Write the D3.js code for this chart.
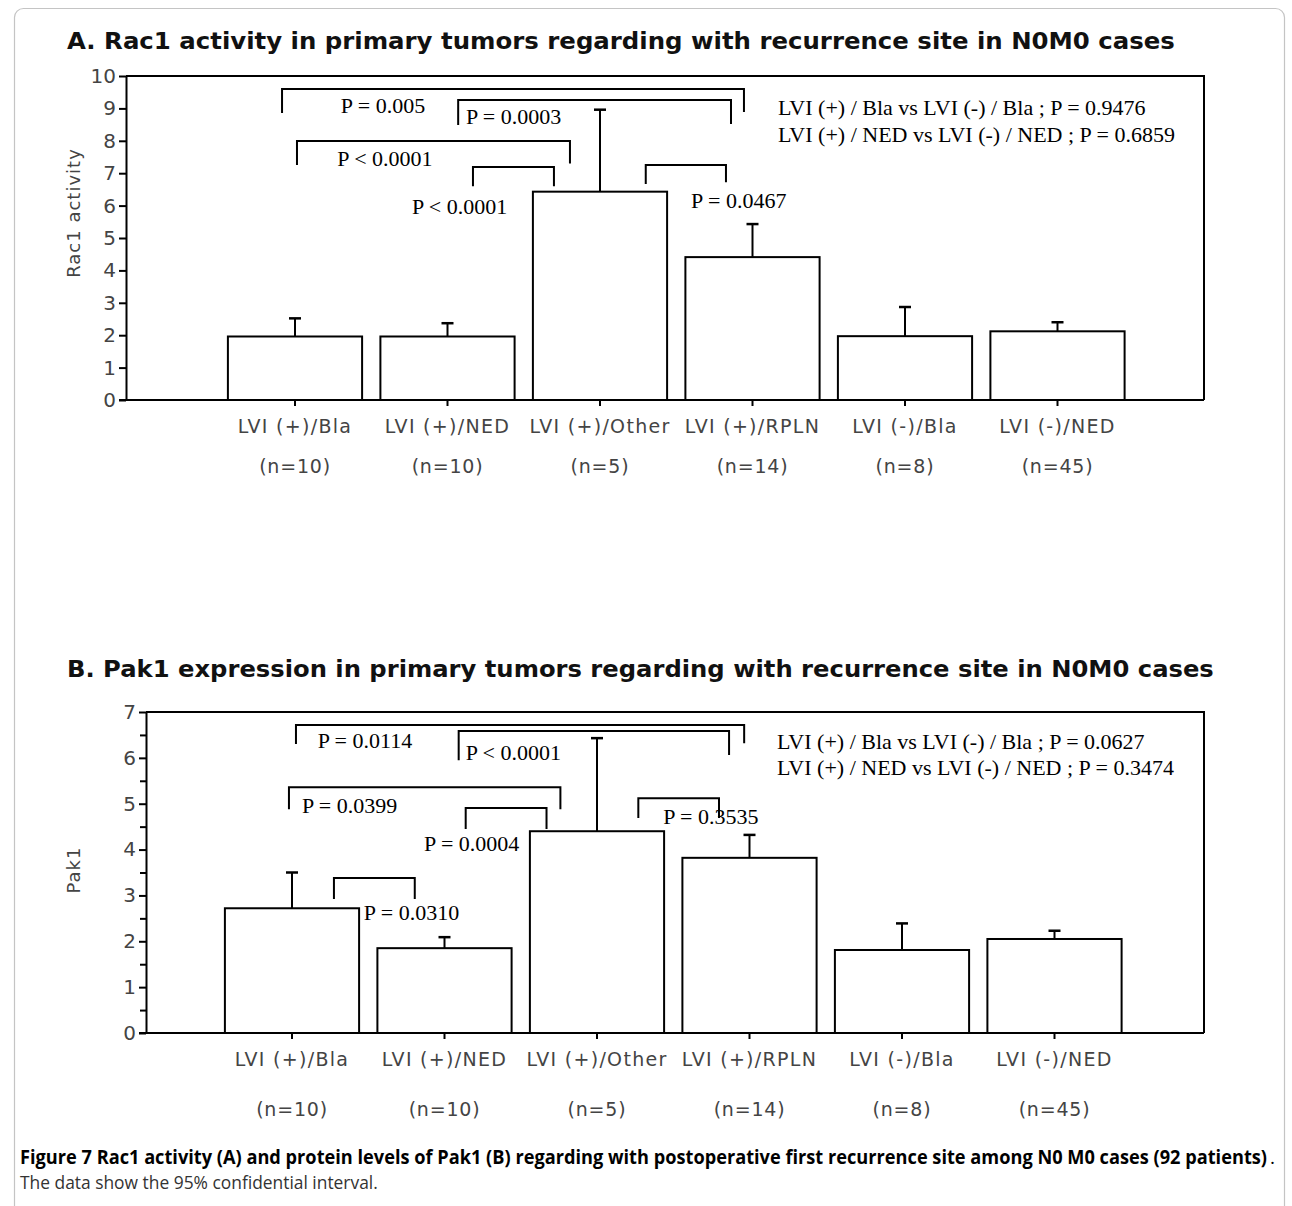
<!DOCTYPE html>
<html>
<head>
<meta charset="utf-8">
<script src="https://cdn.jsdelivr.net/npm/d3@7"></script>
<style>
  body { margin: 0; background: #fff; }
  .tick text { font-family: "DejaVu Sans", sans-serif; fill: #444; }
</style>
</head>
<body>
<div id="chart"></div>
<script>
var svgWidth = 1292;
var svgHeight = 1206;

// categories and group sizes (shared by both panels)
var categories = ["LVI (+)/Bla", "LVI (+)/NED", "LVI (+)/Other", "LVI (+)/RPLN", "LVI (-)/Bla", "LVI (-)/NED"];
var groupSizes = ["(n=10)", "(n=10)", "(n=5)", "(n=14)", "(n=8)", "(n=45)"];

// panel A: Rac1 activity, bar = mean, whisker = upper 95% CI
var rac1Mean = [1.96, 1.96, 6.43, 4.41, 1.97, 2.12];
var rac1Upper = [2.52, 2.37, 8.96, 5.43, 2.87, 2.40];
var rac1Ticks = [0, 1, 2, 3, 4, 5, 6, 7, 8, 9, 10];

// panel B: Pak1 expression
var pak1Mean = [2.72, 1.85, 4.40, 3.82, 1.81, 2.05];
var pak1Upper = [3.50, 2.09, 6.43, 4.32, 2.39, 2.23];
var pak1Ticks = [0, 1, 2, 3, 4, 5, 6, 7];
var pak1MinorTicks = [0.5, 1.5, 2.5, 3.5, 4.5, 5.5, 6.5];

// significance brackets: legs at category-index positions, heights in data units
var rac1Brackets = [
  {x1: -0.085, x2: 2.944, top: 9.60, b1: 8.86, b2: 8.89},
  {x1: 1.07, x2: 2.859, top: 9.26, b1: 8.49, b2: 8.52},
  {x1: 0.013, x2: 1.803, top: 7.99, b1: 7.25, b2: 7.30},
  {x1: 1.167, x2: 1.698, top: 7.19, b1: 6.60, b2: 6.60},
  {x1: 2.30, x2: 2.826, top: 7.25, b1: 6.67, b2: 6.72}
];
var rac1PLabels = [
  {text: "P = 0.005", x: 0.577, y: 9.10, anchor: "middle"},
  {text: "P = 0.0003", x: 1.121, y: 8.77, anchor: "start"},
  {text: "P < 0.0001", x: 0.59, y: 7.47, anchor: "middle"},
  {text: "P < 0.0001", x: 1.079, y: 5.99, anchor: "middle"},
  {text: "P = 0.0467", x: 2.91, y: 6.17, anchor: "middle"},
  {text: "LVI (+) / Bla vs LVI (-) / Bla ; P = 0.9476", x: 3.167, y: 9.04, anchor: "start"},
  {text: "LVI (+) / NED vs LVI (-) / NED ; P = 0.6859", x: 3.167, y: 8.21, anchor: "start"}
];

var pak1Brackets = [
  {x1: 0.026, x2: 2.965, top: 6.716, b1: 6.30, b2: 6.32},
  {x1: 1.093, x2: 2.866, top: 6.585, b1: 5.95, b2: 6.06},
  {x1: -0.02, x2: 1.76, top: 5.36, b1: 4.88, b2: 4.88},
  {x1: 1.139, x2: 1.669, top: 4.906, b1: 4.45, b2: 4.45},
  {x1: 0.275, x2: 0.805, top: 3.38, b1: 2.92, b2: 2.92},
  {x1: 2.271, x2: 2.80, top: 5.12, b1: 4.69, b2: 4.69}
];
var pak1PLabels = [
  {text: "P = 0.0114", x: 0.478, y: 6.39, anchor: "middle"},
  {text: "P < 0.0001", x: 1.139, y: 6.13, anchor: "start"},
  {text: "P = 0.0399", x: 0.065, y: 4.97, anchor: "start"},
  {text: "P = 0.0004", x: 1.178, y: 4.14, anchor: "middle"},
  {text: "P = 0.0310", x: 0.471, y: 2.64, anchor: "start"},
  {text: "P = 0.3535", x: 2.434, y: 4.73, anchor: "start"},
  {text: "LVI (+) / Bla vs LVI (-) / Bla ; P = 0.0627", x: 3.18, y: 6.37, anchor: "start"},
  {text: "LVI (+) / NED vs LVI (-) / NED ; P = 0.3474", x: 3.18, y: 5.80, anchor: "start"}
];

var svg = d3.select("#chart")
  .append("svg")
  .attr("width", svgWidth)
  .attr("height", svgHeight);

// outer figure frame
svg.append("rect")
  .attr("x", 14.5).attr("y", 8.5)
  .attr("width", 1270).attr("height", 1260)
  .attr("rx", 9)
  .attr("fill", "none")
  .attr("stroke", "#c4c4c4")
  .attr("stroke-width", 1.2);

// squeeze a text horizontally so it spans `width` px (keeps its real box small)
function fitText(sel, x, y, width) {
  var w = sel.node().getComputedTextLength();
  sel.attr("transform", "translate(" + x + "," + y + ") scale(" + (width / w) + ",1)");
}

function drawPanel(p) {
  var g = svg.append("g");

  var x = d3.scaleBand()
    .domain(categories)
    .range([p.bandStart, p.bandStart + 915])
    .paddingInner(0.12)
    .paddingOuter(0.06);
  var y = d3.scaleLinear()
    .domain([0, p.yMax])
    .range([p.bottom, p.top]);
  var idx = function(i) { return x(categories[0]) + x.bandwidth() / 2 + i * x.step(); };

  var title = g.append("text")
    .attr("font-family", "DejaVu Sans, sans-serif")
    .attr("font-weight", "bold")
    .attr("font-size", 22.5)
    .attr("fill", "#111")
    .text(p.title);
  fitText(title, 67, p.titleY, p.titleWidth);

  // frame: top and right edges
  g.append("path")
    .attr("d", "M" + p.left + "," + p.top + "H" + p.right + "V" + p.bottom)
    .attr("fill", "none").attr("stroke", "#000").attr("stroke-width", 2);

  // bars
  g.selectAll("rect.bar")
    .data(p.mean)
    .enter().append("rect")
    .attr("class", "bar")
    .attr("x", function(d, i) { return x(categories[i]); })
    .attr("y", function(d) { return y(d); })
    .attr("width", x.bandwidth())
    .attr("height", function(d) { return p.bottom - y(d); })
    .attr("fill", "#fff")
    .attr("stroke", "#000")
    .attr("stroke-width", 2);

  // error whiskers
  var err = g.selectAll("g.err")
    .data(p.upper)
    .enter().append("g")
    .attr("class", "err")
    .attr("transform", function(d, i) { return "translate(" + (x(categories[i]) + x.bandwidth() / 2) + ",0)"; });
  err.append("line")
    .attr("y1", function(d, i) { return y(p.mean[i]); })
    .attr("y2", function(d) { return y(d); })
    .attr("stroke", "#000").attr("stroke-width", 2);
  err.append("line")
    .attr("x1", -6).attr("x2", 6)
    .attr("y1", function(d) { return y(d); })
    .attr("y2", function(d) { return y(d); })
    .attr("stroke", "#000").attr("stroke-width", 2.5);

  // brackets
  g.selectAll("path.bracket")
    .data(p.brackets)
    .enter().append("path")
    .attr("class", "bracket")
    .attr("d", function(b) {
      return "M" + idx(b.x1) + "," + y(b.b1) + "V" + y(b.top) + "H" + idx(b.x2) + "V" + y(b.b2);
    })
    .attr("fill", "none").attr("stroke", "#000").attr("stroke-width", 2);

  g.selectAll("text.plabel")
    .data(p.labels)
    .enter().append("text")
    .attr("class", "plabel")
    .attr("x", function(d) { return idx(d.x); })
    .attr("y", function(d) { return y(d.y); })
    .attr("dy", "0.35em")
    .attr("text-anchor", function(d) { return d.anchor; })
    .attr("font-family", "Liberation Serif, serif")
    .attr("font-size", 22)
    .attr("fill", "#000")
    .text(function(d) { return d.text; });

  // y axis
  var yAxis = g.append("g")
    .attr("transform", "translate(" + p.left + ",0)")
    .call(d3.axisLeft(y).tickValues(p.ticks).tickFormat(d3.format("d"))
      .tickSize(7).tickSizeOuter(0).tickPadding(3));
  yAxis.selectAll("text").attr("font-size", 20);
  yAxis.selectAll("line, path").attr("stroke-width", 2);
  if (p.minor) {
    var minorAxis = g.append("g")
      .attr("transform", "translate(" + p.left + ",0)")
      .call(d3.axisLeft(y).tickValues(p.minor).tickSize(6).tickFormat(""));
    minorAxis.select("path").remove();
    minorAxis.selectAll("line").attr("stroke-width", 2);
  }

  // x axis
  var xAxis = g.append("g")
    .attr("transform", "translate(0," + p.bottom + ")")
    .call(d3.axisBottom(x).tickSize(6).tickSizeOuter(0).tickPadding(p.labelPad));
  xAxis.select("path").remove();
  xAxis.selectAll("line").attr("stroke-width", 2);
  xAxis.selectAll("text")
    .attr("font-size", 19)
    .attr("letter-spacing", 1.3);
  xAxis.selectAll(".tick").append("text")
    .attr("y", p.nOffset)
    .attr("fill", "#444")
    .attr("font-size", 19)
    .attr("letter-spacing", 0.8)
    .attr("text-anchor", "middle")
    .text(function(d, i) { return groupSizes[i]; });

  g.append("line")
    .attr("x1", p.left - 7).attr("x2", p.right)
    .attr("y1", p.bottom).attr("y2", p.bottom)
    .attr("stroke", "#000").attr("stroke-width", 2);

  g.append("text")
    .attr("transform", "translate(80," + p.ylabY + ") rotate(-90)")
    .attr("text-anchor", "middle")
    .attr("font-family", "DejaVu Sans, sans-serif")
    .attr("font-size", 18)
    .attr("letter-spacing", 1)
    .attr("fill", "#444")
    .text(p.ylabel);
}

drawPanel({
  title: "A. Rac1 activity in primary tumors regarding with recurrence site in N0M0 cases",
  titleY: 49, titleWidth: 1108,
  mean: rac1Mean, upper: rac1Upper, ticks: rac1Ticks, minor: null, yMax: 10,
  brackets: rac1Brackets, labels: rac1PLabels,
  left: 126, right: 1204, top: 76, bottom: 400, bandStart: 218.75,
  labelPad: 14, nOffset: 73, ylabel: "Rac1 activity", ylabY: 213
});

drawPanel({
  title: "B. Pak1 expression in primary tumors regarding with recurrence site in N0M0 cases",
  titleY: 677, titleWidth: 1148,
  mean: pak1Mean, upper: pak1Upper, ticks: pak1Ticks, minor: pak1MinorTicks, yMax: 7,
  brackets: pak1Brackets, labels: pak1PLabels,
  left: 146, right: 1204, top: 712, bottom: 1033, bandStart: 215.75,
  labelPad: 14, nOffset: 83, ylabel: "Pak1", ylabY: 870
});

// caption
var cap1 = svg.append("text")
  .attr("font-family", "Open Sans, sans-serif")
  .attr("font-weight", "bold")
  .attr("font-size", 19)
  .attr("fill", "#000")
  .text("Figure 7 Rac1 activity (A) and protein levels of Pak1 (B) regarding with postoperative first recurrence site among N0 M0 cases (92 patients)");
fitText(cap1, 20, 1164, 1248);
svg.append("text")
  .attr("x", 1270).attr("y", 1164)
  .attr("font-family", "Open Sans, sans-serif")
  .attr("font-size", 19)
  .attr("fill", "#000")
  .text(".");

var cap2 = svg.append("text")
  .attr("font-family", "Open Sans, sans-serif")
  .attr("font-size", 18)
  .attr("fill", "#333")
  .text("The data show the 95% confidential interval.");
fitText(cap2, 20, 1189, 358);
</script>
</body>
</html>
